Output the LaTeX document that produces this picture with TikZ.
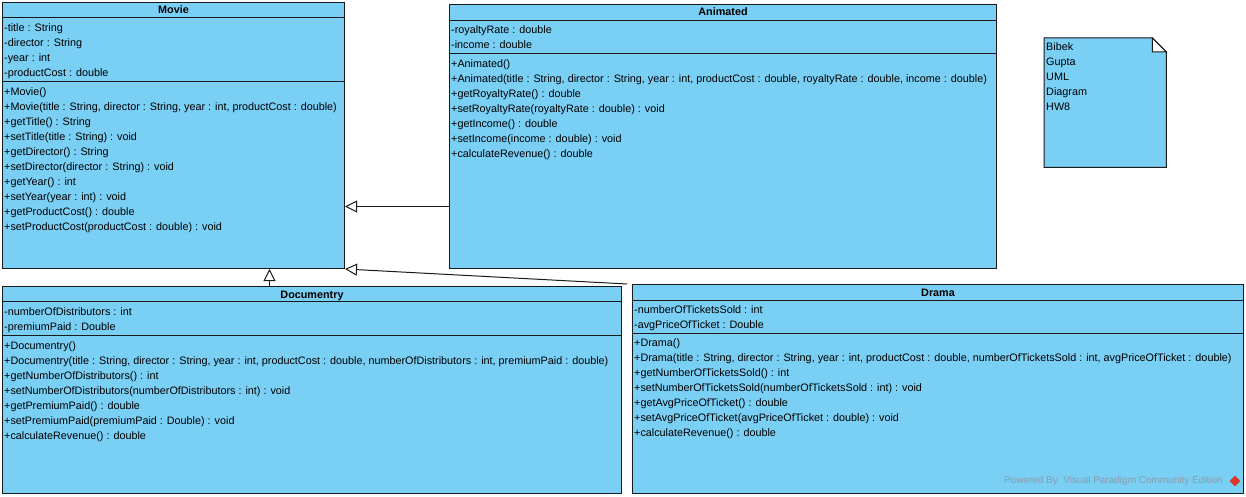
\documentclass[tikz,border=0pt]{standalone}
\usepackage{fontspec}
\setmainfont{Liberation Sans}
\usepackage{xcolor}
\usetikzlibrary{arrows.meta,positioning,shapes.geometric}
\definecolor{umlfill}{HTML}{7ACFF5}
\definecolor{umlline}{HTML}{1A1A1A}
\definecolor{vpgray}{HTML}{8B9BAA}
\definecolor{vpred}{HTML}{D8372C}

\begin{document}
\begin{tikzpicture}[x=1pt,y=-1pt,
    classbox/.style={draw=umlline,fill=umlfill,line width=1pt,anchor=north west,inner sep=0pt},
    classname/.style={font=\fontsize{10.8}{15}\selectfont\bfseries,inner sep=0pt,text height=8pt,text depth=0pt},
    members/.style={font=\fontsize{10.8}{15}\selectfont,align=left,anchor=north west,inner sep=0pt},
    inherit/.style={draw=umlline,line width=1pt,-{Triangle[fill=white,length=12pt,width=12pt]}}]
    \useasboundingbox[fill=white] (0,0) rectangle (1246,497);

    % Movie
    \node[classbox,minimum width=342pt,minimum height=266pt] (Movie) at (2,2) {};
    \node[classname] (MovieName) at ([yshift=-8pt]Movie.north) {Movie};
    \draw[umlline] ([yshift=-15pt]Movie.north west) -- ([yshift=-15pt]Movie.north east);
    \draw[umlline] ([yshift=-79pt]Movie.north west) -- ([yshift=-79pt]Movie.north east);
    \node[members] (MovieAttr) at ([xshift=2pt,yshift=-18.5pt]Movie.north west)
      {\strut-title : String\\-director : String\\-year : int\\-productCost : double};
    \node[members] (MovieOps) at ([xshift=2pt,yshift=-82.5pt]Movie.north west)
      {\strut+Movie()\\+Movie(title : String, director : String, year : int, productCost : double)\\
       +getTitle() : String\\+setTitle(title : String) : void\\+getDirector() : String\\
       +setDirector(director : String) : void\\+getYear() : int\\+setYear(year : int) : void\\
       +getProductCost() : double\\+setProductCost(productCost : double) : void};

    % Animated
    \node[classbox,minimum width=547pt,minimum height=264pt] (Animated) at (449,4) {};
    \node[classname] (AnimatedName) at ([yshift=-8pt]Animated.north) {Animated};
    \draw[umlline] ([yshift=-16pt]Animated.north west) -- ([yshift=-16pt]Animated.north east);
    \draw[umlline] ([yshift=-49pt]Animated.north west) -- ([yshift=-49pt]Animated.north east);
    \node[members] (AnimatedAttr) at ([xshift=2pt,yshift=-18.5pt]Animated.north west)
      {\strut-royaltyRate : double\\-income : double};
    \node[members] (AnimatedOps) at ([xshift=2pt,yshift=-52.5pt]Animated.north west)
      {\strut+Animated()\\
       +Animated(title : String, director : String, year : int, productCost : double, royaltyRate : double, income : double)\\
       +getRoyaltyRate() : double\\+setRoyaltyRate(royaltyRate : double) : void\\
       +getIncome() : double\\+setIncome(income : double) : void\\+calculateRevenue() : double};

    % note
    \node[minimum width=122pt,minimum height=129pt,anchor=north west,inner sep=0pt] (Note) at (1044,38) {};
    \filldraw[fill=umlfill,draw=umlline,line width=1pt] (Note.north west) -- ([xshift=-14pt]Note.north east)
      -- ([yshift=-14pt]Note.north east) -- (Note.south east) -- (Note.south west) -- cycle;
    \filldraw[fill=white,draw=umlline,line width=1pt] ([xshift=-14pt]Note.north east)
      |- ([yshift=-14pt]Note.north east) -- cycle;
    \node[members] (NoteText) at ([xshift=2pt,yshift=-1.5pt]Note.north west)
      {\strut Bibek\\Gupta\\UML\\Diagram\\HW8};

    % Documentry
    \node[classbox,minimum width=619pt,minimum height=207pt] (Documentry) at (2,286) {};
    \node[classname] (DocumentryName) at ([yshift=-8pt]Documentry.north) {Documentry};
    \draw[umlline] ([yshift=-15pt]Documentry.north west) -- ([yshift=-15pt]Documentry.north east);
    \draw[umlline] ([yshift=-49pt]Documentry.north west) -- ([yshift=-49pt]Documentry.north east);
    \node[members] (DocumentryAttr) at ([xshift=2pt,yshift=-18.5pt]Documentry.north west)
      {\strut-numberOfDistributors : int\\-premiumPaid : Double};
    \node[members] (DocumentryOps) at ([xshift=2pt,yshift=-52.5pt]Documentry.north west)
      {\strut+Documentry()\\
       +Documentry(title : String, director : String, year : int, productCost : double, numberOfDistributors : int, premiumPaid : double)\\
       +getNumberOfDistributors() : int\\+setNumberOfDistributors(numberOfDistributors : int) : void\\
       +getPremiumPaid() : double\\+setPremiumPaid(premiumPaid : Double) : void\\+calculateRevenue() : double};

    % Drama
    \node[classbox,minimum width=611pt,minimum height=209pt] (Drama) at (632,284) {};
    \node[classname] (DramaName) at ([yshift=-8pt]Drama.north) {Drama};
    \draw[umlline] ([yshift=-16pt]Drama.north west) -- ([yshift=-16pt]Drama.north east);
    \draw[umlline] ([yshift=-49pt]Drama.north west) -- ([yshift=-49pt]Drama.north east);
    \node[members] (DramaAttr) at ([xshift=2pt,yshift=-18.5pt]Drama.north west)
      {\strut-numberOfTicketsSold : int\\-avgPriceOfTicket : Double};
    \node[members] (DramaOps) at ([xshift=2pt,yshift=-52pt]Drama.north west)
      {\strut+Drama()\\
       +Drama(title : String, director : String, year : int, productCost : double, numberOfTicketsSold : int, avgPriceOfTicket : double)\\
       +getNumberOfTicketsSold() : int\\+setNumberOfTicketsSold(numberOfTicketsSold : int) : void\\
       +getAvgPriceOfTicket() : double\\+setAvgPriceOfTicket(avgPriceOfTicket : double) : void\\+calculateRevenue() : double};
    \node[font=\fontsize{10}{12}\selectfont,text=vpgray,anchor=east,inner sep=0pt] (PoweredBy)
      at ([xshift=-21pt,yshift=13pt]Drama.south east) {Powered By\ \ Visual Paradigm Community Edition};
    \node[diamond,fill=vpred,minimum size=11pt,inner sep=0pt] (VPLogo) at ([xshift=-9pt,yshift=13pt]Drama.south east) {};

    % generalisations
    \coordinate (AnimatedTail) at ([yshift=-70pt]Animated.west);
    \draw[inherit] (AnimatedTail) -- (AnimatedTail -| Movie.east);
    \coordinate (DocumentryTail) at ([xshift=-42.5pt]Documentry.north);
    \draw[inherit] (DocumentryTail) -- (DocumentryTail |- Movie.south);
    \draw[inherit] ([xshift=-5pt]Drama.north west) -- (Movie.south east);
\end{tikzpicture}
\end{document}
